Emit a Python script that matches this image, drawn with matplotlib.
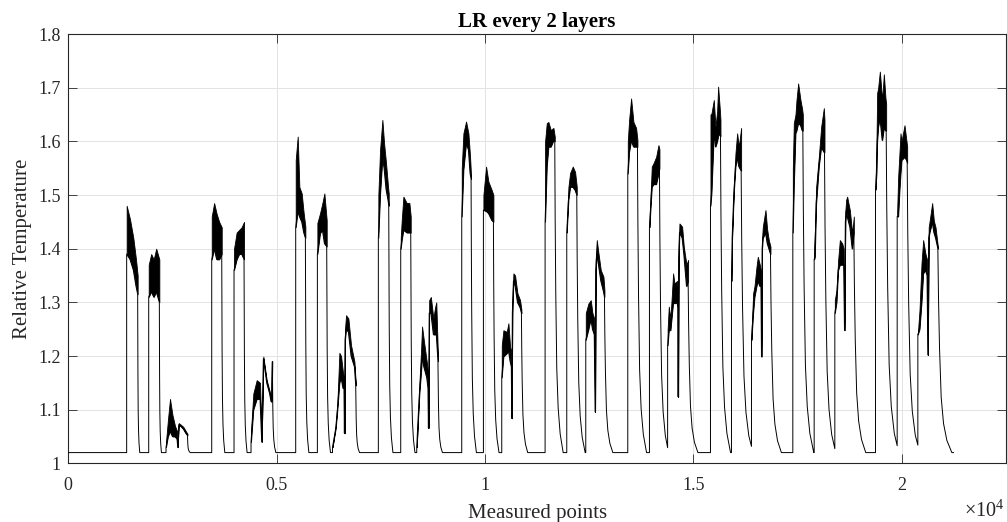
import numpy as np
import matplotlib
matplotlib.use('Agg')
import matplotlib.pyplot as plt

plt.rcParams['font.family'] = ['Liberation Serif', 'DejaVu Serif']
plt.rcParams['mathtext.fontset'] = 'custom'
plt.rcParams['mathtext.rm'] = 'Liberation Serif'

''' 读图得到的数据 '''
BASE = 1.02          # 基线温度
X_END = 21240        # 最后一个测点

# 每个脉冲: 采样点位置, 上包络, 下包络
pulse_x = [
    [1401, 1481, 1561, 1625, 1665],
    [1930, 1990, 2050, 2110, 2185],
    [2345, 2390, 2441, 2500, 2560, 2610, 2625, 2650, 2700, 2760, 2820, 2860],
    [3442, 3500, 3560, 3620, 3682],
    [3977, 4040, 4100, 4160, 4217],
    [4385, 4440, 4521, 4601, 4641, 4681, 4761, 4830, 4865, 4882, 4897],
    [5457, 5505, 5545, 5601, 5649, 5689],
    [5977, 6041, 6097, 6145, 6201],
    [6340, 6417, 6457, 6505, 6545, 6590, 6615, 6625, 6640, 6665, 6721, 6785, 6865, 6897],
    [7440, 7481, 7537, 7577, 7625, 7673, 7689],
    [7977, 8001, 8041, 8121, 8185, 8217],
    [8361, 8385, 8425, 8465, 8489, 8530, 8600, 8630, 8641, 8660, 8700, 8760, 8800, 8830, 8870],
    [9441, 9481, 9545, 9601, 9641, 9665],
    [9961, 10025, 10081, 10161, 10201],
    [10401, 10441, 10521, 10561, 10601, 10630, 10641, 10655, 10681, 10721, 10777, 10841, 10873],
    [11441, 11481, 11521, 11577, 11641, 11673],
    [11961, 12001, 12041, 12105, 12161, 12201],
    [12417, 12481, 12537, 12577, 12620, 12641, 12655, 12681, 12721, 12777, 12841, 12865],
    [13425, 13457, 13505, 13561, 13625, 13657],
    [13945, 14001, 14041, 14105, 14161, 14185],
    [14381, 14409, 14449, 14513, 14545, 14609, 14625, 14633, 14645, 14665, 14729, 14769, 14833, 14873],
    [15409, 15433, 15489, 15529, 15569, 15593, 15633, 15649],
    [15913, 15929, 15969, 16009, 16049, 16089, 16145],
    [16393, 16433, 16465, 16513, 16545, 16593, 16620, 16633, 16648, 16665, 16729, 16769, 16809, 16849],
    [17385, 17409, 17449, 17473, 17513, 17569, 17609, 17625],
    [17897, 17913, 17945, 18009, 18065, 18129, 18145],
    [18393, 18433, 18473, 18513, 18569, 18605, 18625, 18645, 18665, 18689, 18753, 18809, 18849],
    [19369, 19393, 19409, 19433, 19473, 19529, 19569, 19609, 19625],
    [19889, 19913, 19945, 19969, 19993, 20065, 20113, 20129],
    [20385, 20425, 20473, 20513, 20569, 20605, 20625, 20645, 20665, 20729, 20769, 20809, 20865],
]
pulse_hi = [
    [1.48, 1.455, 1.42, 1.38, 1.35],
    [1.37, 1.39, 1.38, 1.40, 1.38],
    [1.04, 1.08, 1.12, 1.09, 1.07, 1.06, 1.03, 1.075, 1.072, 1.068, 1.06, 1.055],
    [1.46, 1.485, 1.465, 1.45, 1.44],
    [1.40, 1.43, 1.435, 1.44, 1.45],
    [1.06, 1.13, 1.155, 1.15, 1.04, 1.199, 1.155, 1.135, 1.118, 1.19, 1.19],
    [1.565, 1.609, 1.515, 1.503, 1.466, 1.441],
    [1.448, 1.466, 1.485, 1.503, 1.453],
    [1.03, 1.071, 1.112, 1.206, 1.20, 1.17, 1.16, 1.056, 1.25, 1.276, 1.27, 1.22, 1.19, 1.15],
    [1.50, 1.584, 1.640, 1.597, 1.559, 1.515, 1.503],
    [1.42, 1.453, 1.497, 1.485, 1.485, 1.46],
    [1.03, 1.075, 1.15, 1.21, 1.255, 1.23, 1.19, 1.17, 1.066, 1.304, 1.31, 1.27, 1.29, 1.30, 1.20],
    [1.55, 1.615, 1.637, 1.615, 1.571, 1.534],
    [1.50, 1.553, 1.525, 1.509, 1.50],
    [1.22, 1.248, 1.245, 1.261, 1.217, 1.21, 1.084, 1.30, 1.354, 1.35, 1.317, 1.304, 1.286],
    [1.60, 1.634, 1.636, 1.621, 1.625, 1.609],
    [1.44, 1.515, 1.541, 1.553, 1.543, 1.515],
    [1.28, 1.298, 1.304, 1.28, 1.27, 1.096, 1.38, 1.416, 1.392, 1.36, 1.348, 1.323],
    [1.60, 1.640, 1.680, 1.636, 1.625, 1.602],
    [1.45, 1.553, 1.559, 1.571, 1.593, 1.585],
    [1.25, 1.292, 1.27, 1.354, 1.335, 1.34, 1.32, 1.124, 1.40, 1.447, 1.441, 1.404, 1.37, 1.379],
    [1.65, 1.652, 1.677, 1.627, 1.656, 1.702, 1.66, 1.64],
    [1.35, 1.429, 1.515, 1.578, 1.615, 1.59, 1.625],
    [1.242, 1.317, 1.33, 1.366, 1.385, 1.37, 1.36, 1.199, 1.42, 1.441, 1.472, 1.436, 1.416, 1.404],
    [1.55, 1.634, 1.65, 1.677, 1.708, 1.677, 1.66, 1.65],
    [1.40, 1.429, 1.515, 1.571, 1.627, 1.662, 1.64],
    [1.304, 1.323, 1.379, 1.416, 1.41, 1.40, 1.248, 1.47, 1.491, 1.497, 1.472, 1.429, 1.46],
    [1.52, 1.60, 1.69, 1.70, 1.73, 1.677, 1.725, 1.68, 1.67],
    [1.47, 1.534, 1.58, 1.615, 1.60, 1.630, 1.60, 1.59],
    [1.242, 1.286, 1.373, 1.416, 1.39, 1.38, 1.202, 1.44, 1.45, 1.485, 1.452, 1.44, 1.404],
]
pulse_lo = [
    [1.39, 1.38, 1.36, 1.33, 1.315],
    [1.31, 1.32, 1.31, 1.32, 1.30],
    [1.03, 1.05, 1.06, 1.05, 1.05, 1.045, 1.03, 1.072, 1.069, 1.064, 1.056, 1.052],
    [1.38, 1.40, 1.38, 1.38, 1.39],
    [1.36, 1.38, 1.39, 1.39, 1.38],
    [1.04, 1.10, 1.12, 1.12, 1.04, 1.195, 1.150, 1.130, 1.115, 1.115, 1.19],
    [1.44, 1.47, 1.46, 1.45, 1.43, 1.42],
    [1.39, 1.429, 1.435, 1.41, 1.404],
    [1.03, 1.065, 1.10, 1.15, 1.16, 1.14, 1.14, 1.056, 1.23, 1.25, 1.245, 1.20, 1.18, 1.145],
    [1.42, 1.50, 1.57, 1.55, 1.51, 1.49, 1.48],
    [1.40, 1.416, 1.435, 1.43, 1.43, 1.43],
    [1.03, 1.07, 1.13, 1.17, 1.20, 1.18, 1.16, 1.14, 1.066, 1.28, 1.28, 1.24, 1.24, 1.24, 1.19],
    [1.46, 1.547, 1.597, 1.584, 1.54, 1.53],
    [1.472, 1.47, 1.466, 1.453, 1.45],
    [1.16, 1.199, 1.205, 1.21, 1.19, 1.18, 1.084, 1.28, 1.34, 1.33, 1.30, 1.29, 1.28],
    [1.45, 1.553, 1.59, 1.59, 1.602, 1.60],
    [1.43, 1.491, 1.515, 1.515, 1.509, 1.50],
    [1.23, 1.25, 1.27, 1.25, 1.24, 1.096, 1.36, 1.39, 1.37, 1.34, 1.32, 1.31],
    [1.54, 1.58, 1.602, 1.59, 1.59, 1.59],
    [1.44, 1.515, 1.52, 1.52, 1.54, 1.55],
    [1.22, 1.248, 1.248, 1.30, 1.298, 1.30, 1.29, 1.124, 1.38, 1.43, 1.42, 1.39, 1.33, 1.34],
    [1.48, 1.503, 1.615, 1.59, 1.60, 1.61, 1.615, 1.61],
    [1.34, 1.42, 1.503, 1.553, 1.57, 1.553, 1.545],
    [1.23, 1.28, 1.31, 1.33, 1.34, 1.33, 1.33, 1.199, 1.40, 1.42, 1.43, 1.41, 1.40, 1.39],
    [1.43, 1.515, 1.615, 1.62, 1.634, 1.63, 1.62, 1.62],
    [1.38, 1.385, 1.484, 1.553, 1.59, 1.58, 1.58],
    [1.28, 1.30, 1.36, 1.37, 1.37, 1.37, 1.248, 1.45, 1.47, 1.46, 1.44, 1.40, 1.43],
    [1.51, 1.541, 1.60, 1.627, 1.645, 1.602, 1.625, 1.62, 1.62],
    [1.46, 1.46, 1.51, 1.54, 1.565, 1.571, 1.565, 1.56],
    [1.24, 1.25, 1.30, 1.354, 1.36, 1.35, 1.202, 1.42, 1.43, 1.45, 1.43, 1.42, 1.40],
]

# 冷却曲线 (从最后一个脉冲读出): 距离停止点的测点数, 剩余温升比例
decay_dx = [0, 16, 40, 80, 136, 216, 336]
decay_frac = [1.0, 0.755, 0.513, 0.271, 0.143, 0.060, 0.0]
# 每个脉冲冷却曲线的时间缩放 (越往后冷却越慢)
decay_scale = [0.15, 0.15, 0.2, 0.22, 0.22, 0.25, 0.25, 0.27, 0.27, 0.3,
               0.3, 0.32, 0.38, 0.4, 0.45, 0.6, 0.6, 0.6, 0.65, 0.65,
               0.7, 0.72, 0.85, 0.78, 0.78, 0.8, 0.85, 0.9, 0.9, 1.0]

xtick_pos = [0, 5000, 10000, 15000, 20000]
xtick_lab = ['0', '0.5', '1', '1.5', '2']
ytick_pos = [1.0, 1.1, 1.2, 1.3, 1.4, 1.5, 1.6, 1.7, 1.8]
ytick_lab = ['1', '1.1', '1.2', '1.3', '1.4', '1.5', '1.6', '1.7', '1.8']

''' 停止后的冷却段, 截到下一个脉冲开始 '''
def tail(x_end, y_end, scale, x_next):
    tx = x_end + np.array(decay_dx) * scale
    ty = BASE + (y_end - BASE) * np.array(decay_frac)
    keep = (tx > x_end) & (tx < x_next)
    y_cut = np.interp(x_next, tx, ty, right=BASE)
    return list(tx[keep]) + [x_next], list(ty[keep]) + [y_cut]

''' 拼出整条曲线 '''
def build_signal():
    sig_x, sig_y = [0, pulse_x[0][0]], [BASE, BASE]
    n = len(pulse_x)
    for i in range(n):
        sig_x += pulse_x[i]
        sig_y += pulse_lo[i]
        x_next = pulse_x[i + 1][0] if i + 1 < n else X_END
        tx, ty = tail(pulse_x[i][-1], pulse_lo[i][-1], decay_scale[i], x_next)
        sig_x += tx
        sig_y += ty
    return sig_x, sig_y

if __name__ == '__main__':
    fig = plt.figure(figsize=(10.07, 5.22), dpi=100)
    ax = fig.add_axes([0.0678, 0.1124, 0.9312, 0.8224])

    sig_x, sig_y = build_signal()
    # 噪声带
    for px, hi, lo in zip(pulse_x, pulse_hi, pulse_lo):
        ax.fill_between(px, lo, hi, facecolor='black', edgecolor='black',
                        linewidth=0.6, zorder=3)
    ax.plot(sig_x, sig_y, color='black', linewidth=0.7, zorder=4)

    ax.set_xlim(0, 22500)
    ax.set_ylim(1, 1.8)
    ax.set_xticks(xtick_pos)
    ax.set_xticklabels(xtick_lab)
    ax.set_yticks(ytick_pos)
    ax.set_yticklabels(ytick_lab)

    ax.grid(True, color='#e3e3e3', linewidth=0.7)
    ax.set_axisbelow(True)
    ax.tick_params(direction='in', length=6.5, width=0.6, colors='#262626',
                   labelsize=13, top=True, right=True)
    ax.tick_params(axis='x', pad=10)
    ax.tick_params(axis='y', pad=5.5)
    for s in ax.spines.values():
        s.set_color('#262626')
        s.set_linewidth(0.8)

    ax.set_title('LR every 2 layers', fontsize=15, fontweight='bold', pad=5)
    ax.set_xlabel('Measured points', fontsize=15, color='#262626', labelpad=7)
    ax.set_ylabel('Relative Temperature', fontsize=15, color='#262626', labelpad=4.5)
    ax.text(0.998, -0.085, r'$\times10^{4}$', transform=ax.transAxes,
            ha='right', va='top', fontsize=14.5, color='#262626')

    plt.savefig('out.png', dpi=100)
